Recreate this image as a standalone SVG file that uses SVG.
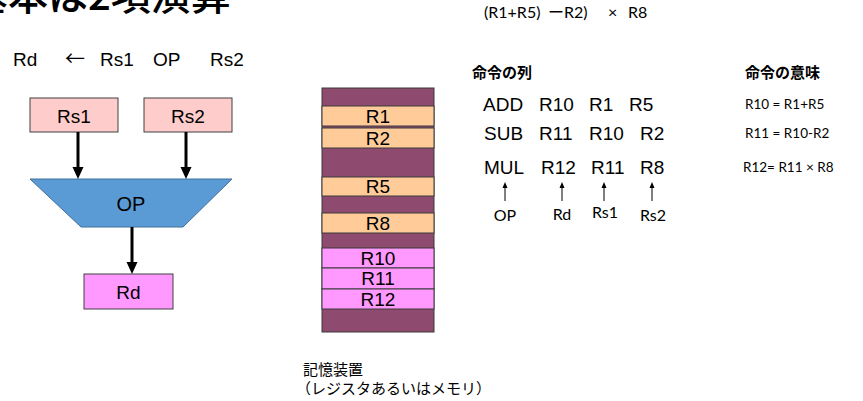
<svg xmlns="http://www.w3.org/2000/svg" width="863" height="401" viewBox="0 0 863 401">
<style>
.a{font-family:"Liberation Sans",Arial,sans-serif;fill:#000}
.c{font-family:Lato,"Noto Sans","Noto Sans CJK JP",sans-serif;fill:#000}
.j{font-family:"Noto Sans CJK JP",sans-serif;fill:#000}
.box{stroke:#404040;stroke-width:1}
.mem{stroke:#3a3a3a;stroke-width:1}
.thick{stroke:#000;stroke-width:3;fill:none}
.thin{stroke:#000;stroke-width:1;fill:none}
</style>
<defs>
<marker id="ah" markerUnits="userSpaceOnUse" markerWidth="12" markerHeight="12" viewBox="0 0 12 12" refX="0" refY="6" orient="auto"><path d="M0,0.5 L12,6 L0,11.5 z" fill="#000"/></marker>
<marker id="ahs" markerUnits="userSpaceOnUse" markerWidth="6" markerHeight="6" viewBox="0 0 6 6" refX="0" refY="3" orient="auto"><path d="M0,0.5 L6,3 L0,5.5 z" fill="#000"/></marker>
</defs>
<rect width="863" height="401" fill="#fff"/>
<g id="title"><text class="j" x="-32" y="10" font-size="40" font-weight="500">基本は2項演算</text></g>
<g id="formula"><text class="c" y="18" font-size="16"><tspan x="484">(R1+R5)</tspan><tspan x="548" font-family="Noto Sans CJK JP" font-size="16">ー</tspan><tspan x="564">R2)</tspan><tspan x="608">×</tspan><tspan x="628">R8</tspan></text></g>
<g id="syntax" class="a" font-size="19">
<text x="13" y="66">Rd</text><text x="65" y="66" font-family="Noto Sans CJK JP" font-size="20">←</text><text x="100" y="66">Rs1</text><text x="153" y="66">OP</text><text x="210" y="66">Rs2</text>
</g>
<g id="rs1"><rect class="box" x="30" y="98" width="88" height="34" fill="#FFCCCC"/><text class="a" x="74" y="123" font-size="19" text-anchor="middle">Rs1</text></g>
<g id="rs2"><rect class="box" x="144" y="98" width="88" height="34" fill="#FFCCCC"/><text class="a" x="188" y="123" font-size="19" text-anchor="middle">Rs2</text></g>
<g id="op"><path d="M30,179 L232,179 L183,227 L81,227 Z" fill="#5B9BD5" stroke="#41719C" stroke-width="1"/><text class="a" x="131" y="211" font-size="20" text-anchor="middle">OP</text></g>
<g id="rd"><rect class="box" x="84" y="274" width="89" height="35" fill="#FF99FF"/><text class="a" x="128.5" y="299" font-size="19" text-anchor="middle">Rd</text></g>
<g id="connectors">
<line class="thick" x1="78" y1="132" x2="78" y2="167" marker-end="url(#ah)"/>
<line class="thick" x1="186" y1="132" x2="186" y2="167" marker-end="url(#ah)"/>
<line class="thick" x1="132" y1="227" x2="132" y2="262" marker-end="url(#ah)"/>
<line class="thin" x1="505" y1="201" x2="505" y2="188" marker-end="url(#ahs)"/>
<line class="thin" x1="562" y1="201" x2="562" y2="188" marker-end="url(#ahs)"/>
<line class="thin" x1="604" y1="201" x2="604" y2="188" marker-end="url(#ahs)"/>
<line class="thin" x1="652" y1="201" x2="652" y2="188" marker-end="url(#ahs)"/>
</g>
<g id="memory">
<rect class="mem" x="322" y="88" width="112" height="244" fill="#8E4B6F"/>
<rect class="mem" x="322" y="106" width="112" height="20" fill="#FFCC99"/>
<rect class="mem" x="322" y="128" width="112" height="20" fill="#FFCC99"/>
<rect class="mem" x="322" y="177" width="112" height="19" fill="#FFCC99"/>
<rect class="mem" x="322" y="213" width="112" height="20" fill="#FFCC99"/>
<rect class="mem" x="322" y="248" width="112" height="20" fill="#FF99FF"/>
<rect class="mem" x="322" y="268" width="112" height="21" fill="#FF99FF"/>
<rect class="mem" x="322" y="289" width="112" height="20" fill="#FF99FF"/>
<g class="a" font-size="19" text-anchor="middle">
<text x="378" y="123">R1</text><text x="378" y="145">R2</text><text x="378" y="193">R5</text><text x="378" y="230">R8</text>
<text x="378" y="265">R10</text><text x="378" y="285">R11</text><text x="378" y="306">R12</text>
</g>
</g>
<g id="memcaption" class="j" font-size="15">
<text x="303" y="375">記憶装置</text><text x="296" y="394">（レジスタあるいはメモリ）</text>
</g>
<g id="instructions">
<text class="j" x="472" y="78" font-size="15" font-weight="bold">命令の列</text>
<g class="a" font-size="19">
<text x="483" y="111">ADD</text><text x="539" y="111">R10</text><text x="589" y="111">R1</text><text x="629" y="111">R5</text>
<text x="484" y="140">SUB</text><text x="539" y="140">R11</text><text x="589" y="140">R10</text><text x="640" y="140">R2</text>
<text x="484" y="174">MUL</text><text x="541" y="174">R12</text><text x="591" y="174">R11</text><text x="640" y="174">R8</text>
</g>
<g class="c" font-size="16" text-anchor="middle">
<text x="505" y="221">OP</text><text x="562" y="220">Rd</text><text x="605" y="218">Rs1</text><text x="653" y="221">Rs2</text>
</g>
</g>
<g id="meaning">
<text class="j" x="745" y="78" font-size="15" font-weight="bold">命令の意味</text>
<g class="c" font-size="13.5">
<text x="745" y="109">R10 = R1+R5</text><text x="745" y="138">R11 = R10-R2</text><text x="743" y="172">R12= R11 × R8</text>
</g>
</g>
</svg>
